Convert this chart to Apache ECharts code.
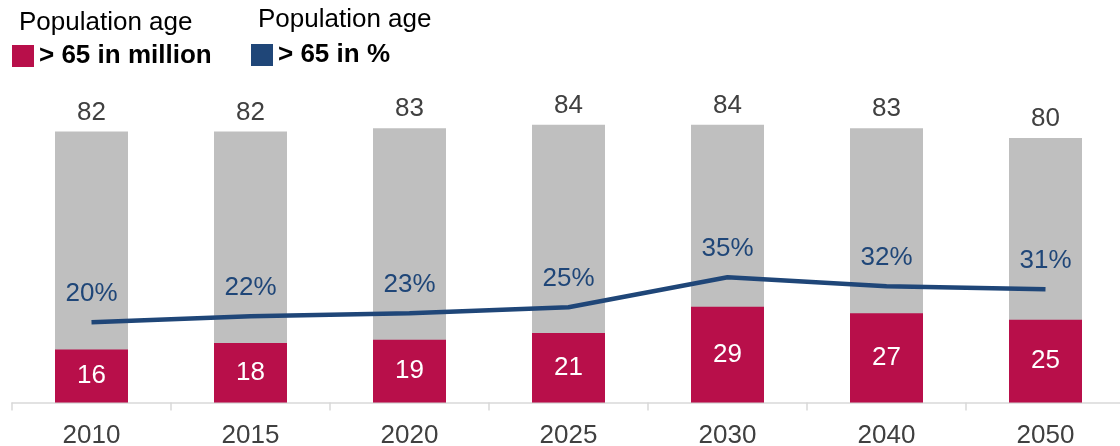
<!DOCTYPE html>
<html>
<head>
<meta charset="utf-8">
<script src="https://cdn.jsdelivr.net/npm/echarts@6/dist/echarts.min.js"></script>
<style>
  html, body { margin: 0; padding: 0; background: #ffffff; }
  #chart { width: 1120px; height: 446px; }
</style>
</head>
<body>
<div id="chart"></div>
<script>
// Years on the category axis
const years = ['2010', '2015', '2020', '2025', '2030', '2040', '2050'];
// Total population (million)
const totalPopulation = [82, 82, 83, 84, 84, 83, 80];
// Population aged over 65 (million)
const olderMillions = [16, 18, 19, 21, 29, 27, 25];
// Share of population aged over 65 (%)
const olderShare = [20, 22, 23, 25, 35, 32, 31];

const RED = '#B80F4A';
const BLUE = '#1F4678';
const GREY = '#BFBFBF';
const TEXT = '#404040';
const FONT = '"Liberation Sans", Arial, sans-serif';
const FS = 26;

const chart = echarts.init(document.getElementById('chart'), null, { renderer: 'canvas' });

chart.setOption({
  animation: false,
  textStyle: { fontFamily: FONT },
  grid: { left: 12, right: -5, top: 105, bottom: 43.5, containLabel: false, outerBoundsMode: 'none' },
  legend: [
    {
      left: 12, top: 43, padding: 0,
      data: [{ name: '> 65 in million', icon: 'rect' }],
      itemWidth: 22, itemHeight: 22, itemGap: 0,
      textStyle: { fontFamily: FONT, fontSize: FS, fontWeight: 'bold', color: '#000' },
      selectedMode: false
    },
    {
      left: 251, top: 42, padding: 0,
      data: [{ name: '> 65 in %', icon: 'rect' }],
      itemWidth: 22, itemHeight: 22, itemGap: 0,
      textStyle: { fontFamily: FONT, fontSize: FS, fontWeight: 'bold', color: '#000' },
      selectedMode: false
    }
  ],
  graphic: [
    { type: 'text', left: 19, top: 10, style: { text: 'Population age', fontFamily: FONT, fontSize: FS, fill: '#000' } },
    { type: 'text', left: 258, top: 7, style: { text: 'Population age', fontFamily: FONT, fontSize: FS, fill: '#000' } }
  ],
  xAxis: {
    type: 'category',
    data: years,
    boundaryGap: true,
    axisLine: { lineStyle: { color: '#D9D9D9', width: 1.5 } },
    axisTick: { show: true, length: 8, lineStyle: { color: '#D9D9D9', width: 1.5 } },
    axisLabel: { color: TEXT, fontSize: FS, margin: 20, fontFamily: FONT }
  },
  yAxis: [
    { type: 'value', min: 0, max: 90, show: false, splitLine: { show: false } },
    { type: 'value', min: -6.7, max: 92.3, show: false, splitLine: { show: false } }
  ],
  series: [
    {
      name: 'Total',
      type: 'bar',
      data: totalPopulation,
      barWidth: 73,
      itemStyle: { color: GREY },
      label: { show: true, position: 'top', distance: 6, color: TEXT, fontSize: FS, fontFamily: FONT },
      z: 1
    },
    {
      name: '> 65 in million',
      type: 'bar',
      data: olderMillions,
      barWidth: 73,
      barGap: '-100%',
      itemStyle: { color: RED },
      label: { show: true, position: 'inside', color: '#FFFFFF', fontSize: FS, fontFamily: FONT },
      z: 2
    },
    {
      name: '> 65 in %',
      type: 'line',
      yAxisIndex: 1,
      data: olderShare,
      symbol: 'circle',
      symbolSize: 0,
      showSymbol: true,
      lineStyle: { color: BLUE, width: 4.5 },
      itemStyle: { color: BLUE },
      label: { show: true, position: 'top', distance: 15, color: BLUE, fontSize: FS, fontFamily: FONT, formatter: '{c}%' },
      z: 3
    }
  ]
});
</script>
</body>
</html>
